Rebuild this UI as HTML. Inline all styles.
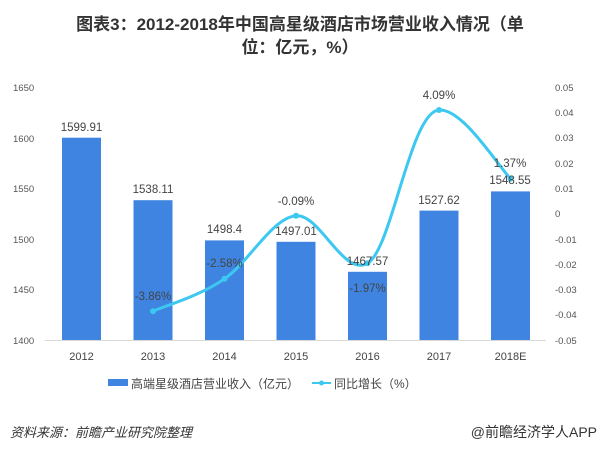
<!DOCTYPE html>
<html><head><meta charset="utf-8"><style>
body{margin:0;background:#fff;width:600px;height:454px;overflow:hidden;font-family:"Liberation Sans","Noto Sans CJK SC",sans-serif}
</style></head><body>
<svg width="600" height="454" xmlns="http://www.w3.org/2000/svg" font-family="Liberation Sans, Noto Sans CJK SC, sans-serif">
<text x="300" y="30" text-anchor="middle" font-size="17" font-weight="bold" fill="#333">图表3：2012-2018年中国高星级酒店市场营业收入情况（单</text>
<text x="300" y="53" text-anchor="middle" font-size="17" font-weight="bold" fill="#333">位：亿元，%）</text>
<g font-size="9.5" fill="#555">
<text x="13" y="91">1650</text><text x="13" y="142">1600</text><text x="13" y="192">1550</text>
<text x="13" y="243">1500</text><text x="13" y="293">1450</text><text x="13" y="344">1400</text>
<text x="555" y="91">0.05</text><text x="555" y="116">0.04</text><text x="555" y="141">0.03</text>
<text x="555" y="167">0.02</text><text x="555" y="192">0.01</text><text x="555" y="217">0</text>
<text x="555" y="243">-0.01</text><text x="555" y="268">-0.02</text><text x="555" y="293">-0.03</text>
<text x="555" y="318">-0.04</text><text x="555" y="344">-0.05</text>
</g>
<line x1="45" y1="340.5" x2="546" y2="340.5" stroke="#d9d9d9"/>
<g fill="#3f84e0">
<rect x="62" y="137.7" width="39" height="202.3"/>
<rect x="133.5" y="200.2" width="39" height="139.8"/>
<rect x="205" y="240.4" width="39" height="99.6"/>
<rect x="276.5" y="241.8" width="39" height="98.2"/>
<rect x="348" y="271.8" width="39" height="68.2"/>
<rect x="419.5" y="210.6" width="39" height="129.4"/>
<rect x="491" y="191.4" width="39" height="148.6"/>
</g>
<g font-size="11" fill="#444" text-anchor="middle">
<text x="81.5" y="360">2012</text><text x="153" y="360">2013</text><text x="224.5" y="360">2014</text>
<text x="296" y="360">2015</text><text x="367.5" y="360">2016</text><text x="439" y="360">2017</text><text x="510.5" y="360">2018E</text>
</g>
<path d="M153,311.2 C165,305.8 200,296 224.5,278.8 C249,262 272,218 296,215.8 C320,213.6 343,277 367.5,263.3 C392,250 410,112 439,110 C462,108.5 494,160 510.5,178.8" fill="none" stroke="#3cc8f0" stroke-width="3"/>
<g fill="#3cc8f0"><circle cx="153" cy="311.2" r="3"/><circle cx="224.5" cy="278.8" r="3"/><circle cx="296" cy="215.8" r="3"/><circle cx="367.5" cy="263.3" r="3"/><circle cx="439" cy="110" r="3"/><circle cx="510.5" cy="178.8" r="3"/></g>
<g font-size="11.5" fill="#444" text-anchor="middle">
<text x="81.5" y="131">1599.91</text><text x="153" y="193">1538.11</text><text x="224.5" y="233">1498.4</text>
<text x="296" y="235">1497.01</text><text x="367.5" y="265">1467.57</text><text x="439" y="204">1527.62</text><text x="510" y="184">1548.55</text>
<text x="153" y="300">-3.86%</text><text x="224.5" y="267">-2.58%</text><text x="296" y="205">-0.09%</text>
<text x="367.5" y="292">-1.97%</text><text x="439" y="99">4.09%</text><text x="510" y="167">1.37%</text>
</g>
<rect x="108" y="379" width="20" height="7" fill="#3f84e0"/>
<text x="131" y="388" font-size="12" fill="#444">高端星级酒店营业收入（亿元）</text>
<line x1="312" y1="383" x2="331" y2="383" stroke="#3cc8f0" stroke-width="2"/><circle cx="321.5" cy="383" r="2.5" fill="#3cc8f0"/>
<text x="334" y="388" font-size="12" fill="#444">同比增长（%）</text>
<text x="10" y="437" font-size="13" font-style="italic" fill="#333">资料来源：前瞻产业研究院整理</text>
<text x="597" y="437" font-size="14" fill="#333" text-anchor="end">@前瞻经济学人APP</text>
</svg>
</body></html>
